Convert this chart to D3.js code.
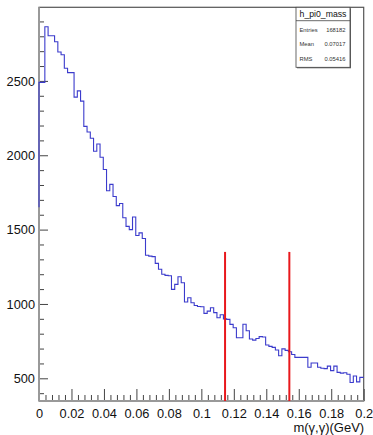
<!DOCTYPE html>
<html>
<head>
<style>
body { margin: 0; background: #fff; }
text { font-family: "Liberation Sans", Arial, sans-serif; }
</style>
</head>
<body>
<svg width="373" height="435"></svg>
<script src="https://cdn.jsdelivr.net/npm/d3@7"></script>
<script>

// histogram h_pi0_mass, bin width 0.002, first low edge read as -0.0004
let binStart = -0.0004, binWidth = 0.002;
let startValue = 1650;
let counts = [2490, 2490, 2864, 2804, 2804, 2763, 2694, 2676, 2585, 2556,
    2556, 2391, 2433, 2364, 2194, 2156, 2114, 2027, 2076, 1987,
    1904, 1761, 1804, 1723, 1661, 1676, 1580, 1522, 1500, 1585,
    1460, 1478, 1440, 1328, 1322, 1318, 1273, 1233, 1200, 1192,
    1190, 1098, 1132, 1183, 1143, 1013, 1042, 1008, 990, 983,
    981, 937, 952, 974, 942, 907, 927, 900, 896, 863,
    840, 773, 773, 864, 820, 764, 757, 768, 780, 778,
    724, 715, 708, 690, 652, 698, 688, 679, 660, 641,
    641, 641, 641, 574, 603, 603, 574, 568, 565, 582,
    552, 582, 540, 535, 537, 527, 472, 516, 476, 506, 506];

// red cut lines
let cutX = [0.1146, 0.1542];
let cutTop = 1350;

let xMajor = [0, 0.02, 0.04, 0.06, 0.08, 0.1, 0.12, 0.14, 0.16, 0.18, 0.2];
let xLabels = ["0", "0.02", "0.04", "0.06", "0.08", "0.1", "0.12", "0.14", "0.16", "0.18", "0.2"];
let yMajor = [500, 1000, 1500, 2000, 2500];
let yMinor = [400, 600, 700, 800, 900, 1100, 1200, 1300, 1400, 1600, 1700, 1800, 1900,
    2100, 2200, 2300, 2400, 2600, 2700, 2800, 2900];

let statsTitle = "h_pi0_mass";
let statsNames = ["Entries", "Mean", "RMS"];
let statsValues = ["168182", "0.07017", "0.05416"];
let xTitle = "m(\u03b3,\u03b3)(GeV)";

let fLeft = 39, fRight = 363.7, fTop = 7.3, fBottom = 401;

let x = d3.scaleLinear().domain([0, 0.2]).range([fLeft, fRight]);
let y = d3.scaleLinear().domain([347.4, 2995]).range([fBottom, fTop]);

let svg = d3.select('svg');

// minor x ticks every 0.004
let xMinor = d3.range(0, 51).map(function(i) { return i * 0.004; })
    .filter(function(v, i) { return i % 5 != 0; });

svg.append('g')
    .attr('transform', 'translate(0,' + fBottom + ')')
    .call(d3.axisBottom(x).tickValues(xMinor).tickSize(-6).tickFormat(''))
    .call(function(g) { g.select('.domain').remove(); })
    .selectAll('line').attr('stroke', '#444');

svg.append('g')
    .attr('transform', 'translate(0,' + fBottom + ')')
    .call(d3.axisBottom(x).tickValues(xMajor).tickSize(-12).tickPadding(8)
        .tickFormat(function(d, i) { return xLabels[i]; }))
    .call(function(g) { g.select('.domain').remove(); })
    .call(function(g) {
        g.selectAll('line').attr('stroke', '#444');
        g.selectAll('text').attr('fill', '#111').style('font-size', '12.8px');
    });

svg.append('g')
    .attr('transform', 'translate(' + fLeft + ',0)')
    .call(d3.axisLeft(y).tickValues(yMinor).tickSize(-5).tickFormat(''))
    .call(function(g) { g.select('.domain').remove(); })
    .selectAll('line').attr('stroke', '#444');

svg.append('g')
    .attr('transform', 'translate(' + fLeft + ',0)')
    .call(d3.axisLeft(y).tickValues(yMajor).tickSize(-9).tickPadding(4)
        .tickFormat(function(d) { return "" + d; }))
    .call(function(g) { g.select('.domain').remove(); })
    .call(function(g) {
        g.selectAll('line').attr('stroke', '#444');
        g.selectAll('text').attr('fill', '#111').style('font-size', '12.8px');
    });

// frame
svg.append('rect')
    .attr('x', fLeft).attr('y', fTop)
    .attr('width', fRight - fLeft).attr('height', fBottom - fTop)
    .attr('fill', 'none').attr('stroke', '#555').attr('stroke-width', 1.2);
svg.append('line')
    .attr('x1', fLeft).attr('x2', fLeft).attr('y1', fTop).attr('y2', fBottom)
    .attr('stroke', '#999').attr('stroke-width', 2);
svg.append('line')
    .attr('x1', fLeft).attr('x2', fRight).attr('y1', fBottom).attr('y2', fBottom)
    .attr('stroke', '#999').attr('stroke-width', 2);

// histogram outline
let pts = [[0, startValue]];
counts.forEach(function(c, i) {
    let lo = Math.max(binStart + i * binWidth, 0);
    let hi = Math.min(binStart + (i + 1) * binWidth, 0.2);
    pts.push([lo, c]);
    pts.push([hi, c]);
});

svg.append('path')
    .datum(pts)
    .attr('d', d3.line()
        .x(function(d) { return x(d[0]); })
        .y(function(d) { return y(d[1]); }))
    .attr('fill', 'none')
    .attr('stroke', '#3b3bcc')
    .attr('stroke-width', 1.1);

// cut lines
svg.selectAll('.cut').data(cutX).join('line')
    .attr('class', 'cut')
    .attr('x1', function(d) { return x(d); })
    .attr('x2', function(d) { return x(d); })
    .attr('y1', y(cutTop))
    .attr('y2', fBottom)
    .attr('stroke', '#e8181c')
    .attr('stroke-width', 2);

// stats box
let sb = svg.append('g');
sb.append('rect').attr('x', 297).attr('y', 8.3).attr('width', 54).attr('height', 60)
    .attr('fill', '#666');
sb.append('rect').attr('x', 296).attr('y', 7.3).attr('width', 54).attr('height', 60)
    .attr('fill', '#fff').attr('stroke', '#444').attr('stroke-width', 0.8);
sb.append('line').attr('x1', 296).attr('x2', 350).attr('y1', 20.7).attr('y2', 20.7)
    .attr('stroke', '#444').attr('stroke-width', 0.8);
sb.append('text').attr('x', 323).attr('y', 17.3)
    .attr('text-anchor', 'middle').style('font-size', '8.7px').attr('fill', '#111')
    .text(statsTitle);
sb.selectAll('.sn').data(statsNames).join('text')
    .attr('class', 'sn')
    .attr('x', 299.5)
    .attr('y', function(d, i) { return 32 + i * 14.3; })
    .style('font-size', '5.8px').attr('fill', '#333')
    .text(function(d) { return d; });
sb.selectAll('.sv').data(statsValues).join('text')
    .attr('class', 'sv')
    .attr('x', 345.5)
    .attr('y', function(d, i) { return 32 + i * 14.3; })
    .attr('text-anchor', 'end')
    .style('font-size', '5.8px').attr('fill', '#333')
    .text(function(d) { return d; });

// axis title
svg.append('text')
    .attr('x', fRight + 0.5).attr('y', 432)
    .attr('text-anchor', 'end')
    .style('font-size', '13px').attr('fill', '#111')
    .text(xTitle);

</script>
</body>
</html>
